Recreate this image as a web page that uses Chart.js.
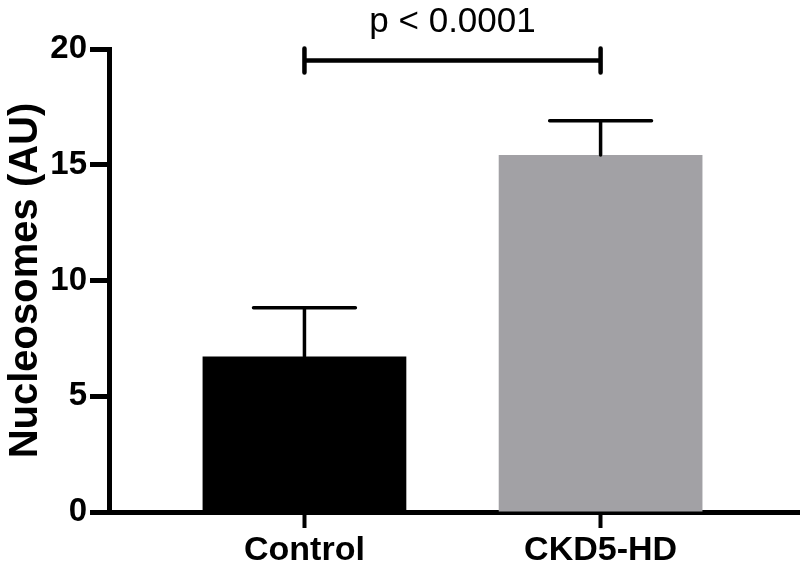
<!DOCTYPE html>
<html>
<head>
<meta charset="utf-8">
<script src="https://cdn.jsdelivr.net/npm/chart.js@4"></script>
<style>
  html, body { margin: 0; padding: 0; background: #fff; }
  #wrap { width: 800px; height: 563px; position: relative; }
</style>
</head>
<body>
<div id="wrap"><canvas id="nucleosomes"></canvas></div>
<script>
// data
var categories = ['Control', 'CKD5-HD'];
var means = [6.72, 15.42];
var sem = [2.1, 1.48];
var barColors = ['#000000', '#a2a1a5'];
var yTicks = [0, 5, 10, 15, 20];
var pLabel = 'p < 0.0001';
var pLevel = 19.5;

var FONT = "'Liberation Sans', Arial, Helvetica, sans-serif";

// error bars (upper only) + significance bracket
var annotations = {
    id: 'annotations',
    afterDatasetsDraw: function (chart) {
        var ctx = chart.ctx;
        var xs = chart.scales.x, ys = chart.scales.y;
        var bars = chart.getDatasetMeta(0).data;
        ctx.save();
        ctx.strokeStyle = '#000';
        ctx.lineCap = 'round';
        ctx.lineWidth = 3.5;
        bars.forEach(function (bar, i) {
            var top = ys.getPixelForValue(means[i]);
            var hi = ys.getPixelForValue(means[i] + sem[i]);
            var half = bar.width / 4;
            ctx.beginPath();
            ctx.moveTo(bar.x, top);
            ctx.lineTo(bar.x, hi);
            ctx.moveTo(bar.x - half, hi);
            ctx.lineTo(bar.x + half, hi);
            ctx.stroke();
        });

        var x1 = xs.getPixelForValue(0), x2 = xs.getPixelForValue(1);
        var yb = ys.getPixelForValue(pLevel);
        ctx.lineWidth = 4.5;
        ctx.beginPath();
        ctx.moveTo(x1, yb); ctx.lineTo(x2, yb);
        ctx.moveTo(x1, yb - 12); ctx.lineTo(x1, yb + 12);
        ctx.moveTo(x2, yb - 12); ctx.lineTo(x2, yb + 12);
        ctx.stroke();

        ctx.fillStyle = '#000';
        ctx.font = '35px ' + FONT;
        ctx.textAlign = 'center';
        ctx.textBaseline = 'alphabetic';
        ctx.fillText(pLabel, (x1 + x2) / 2, yb - 29);
        ctx.restore();
    }
};

var ctx = document.getElementById('nucleosomes').getContext('2d');
var chart = new Chart(ctx, {
    type: 'bar',
    data: {
        datasets: [{
            data: means.map(function (v, i) { return { x: i, y: v }; }),
            backgroundColor: barColors,
            borderWidth: 0,
            categoryPercentage: 1,
            barPercentage: 0.688
        }]
    },
    options: {
        responsive: true,
        maintainAspectRatio: false,
        animation: false,
        layout: { padding: { top: 49, right: 1, left: 0, bottom: 0 } },
        plugins: {
            legend: { display: false },
            tooltip: { enabled: false }
        },
        scales: {
            x: {
                type: 'linear',
                offset: false,
                min: -0.66,
                max: 1.67,
                afterBuildTicks: function (s) {
                    s.ticks = categories.map(function (c, i) { return { value: i }; });
                },
                afterFit: function (s) { s.height = 51; },
                grid: {
                    offset: false,
                    drawOnChartArea: false,
                    tickLength: 16,
                    tickWidth: 4,
                    tickColor: '#000'
                },
                border: { color: '#000', width: 5 },
                ticks: {
                    color: '#000',
                    padding: 2,
                    font: { family: FONT, size: 34, weight: 'bold' },
                    callback: function (v) { return categories[v]; }
                }
            },
            y: {
                min: 0,
                max: 20,
                afterBuildTicks: function (s) {
                    s.ticks = yTicks.map(function (v) { return { value: v }; });
                },
                afterFit: function (s) { s.width = 109; },
                grid: {
                    drawOnChartArea: false,
                    tickLength: 19,
                    tickWidth: 5,
                    tickColor: '#000'
                },
                border: { color: '#000', width: 5 },
                ticks: {
                    color: '#000',
                    padding: 3,
                    font: { family: FONT, size: 33, weight: 'bold' }
                },
                title: {
                    display: true,
                    text: 'Nucleosomes (AU)',
                    color: '#000',
                    padding: { top: 2, bottom: 0 },
                    font: { family: FONT, size: 40, weight: 'bold' }
                }
            }
        }
    },
    plugins: [annotations]
});
</script>
</body>
</html>
